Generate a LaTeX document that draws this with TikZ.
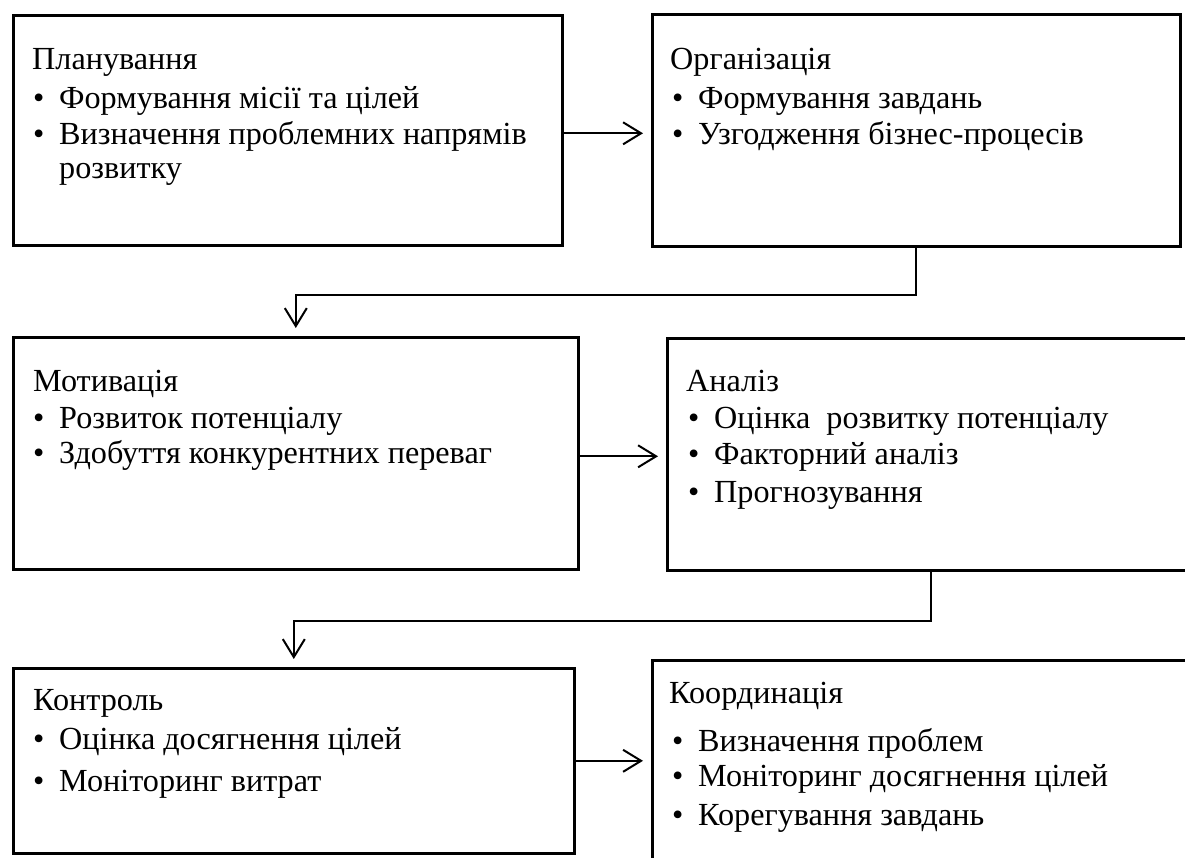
\documentclass[tikz,border=0pt]{standalone}
\usepackage{fontspec}
\setmainfont{Liberation Serif}
\usetikzlibrary{arrows.meta,calc}
\begin{document}
\begin{tikzpicture}[x=1pt,y=-1pt,
  box/.style={draw, line width=2.6pt, anchor=north west, inner sep=0pt},
  txt/.style={anchor=base west, inner sep=0pt, font=\fontsize{32.2}{39}\selectfont},
  conn/.style={line width=2pt, -{Straight Barb[length=18pt,width=22pt,line width=2pt]}, shorten >=8pt}]
\useasboundingbox (0,0) rectangle (1185,857);
\clip (0,0) rectangle (1185,857);
\newcommand{\bul}[1]{\makebox[26pt][l]{\textbullet}#1}
% boxes
\node[box, minimum width=549pt, minimum height=230pt] (b1) at (12,14) {};
\node[box, minimum width=528pt, minimum height=232pt] (b2) at (651,13) {};
\node[box, minimum width=565pt, minimum height=232pt] (b3) at (12,336) {};
\node[box, minimum width=528pt, minimum height=232pt] (b4) at (666,337) {};
\node[box, minimum width=561pt, minimum height=185pt] (b5) at (12,667) {};
\node[box, minimum width=560pt, minimum height=220pt] (b6) at (651,659) {};
% texts box 1
\node[txt] (t1) at (32,69) {Планування};
\node[txt] (t1a) at (33,108) {\bul{Формування місії та цілей}};
\node[txt] (t1b) at (33,144) {\bul{Визначення проблемних напрямів}};
\node[txt] (t1c) at (59,178) {розвитку};
% box 2
\node[txt] (t2) at (670,69) {Організація};
\node[txt] (t2a) at (672,108) {\bul{Формування завдань}};
\node[txt] (t2b) at (672,144) {\bul{Узгодження бізнес-процесів}};
% box 3
\node[txt] (t3) at (33,391) {Мотивація};
\node[txt] (t3a) at (33,428) {\bul{Розвиток потенціалу}};
\node[txt] (t3b) at (33,463) {\bul{Здобуття конкурентних переваг}};
% box 4
\node[txt] (t4) at (686,391) {Аналіз};
\node[txt] (t4a) at (688,428) {\bul{Оцінка\ \ розвитку потенціалу}};
\node[txt] (t4b) at (688,464) {\bul{Факторний аналіз}};
\node[txt] (t4c) at (688,502) {\bul{Прогнозування}};
% box 5
\node[txt] (t5) at (33,710) {Контроль};
\node[txt] (t5a) at (33,749) {\bul{Оцінка досягнення цілей}};
\node[txt] (t5b) at (33,791) {\bul{Моніторинг витрат}};
% box 6
\node[txt] (t6) at (669,703) {Координація};
\node[txt] (t6a) at (672,751) {\bul{Визначення проблем}};
\node[txt] (t6b) at (672,786) {\bul{Моніторинг досягнення цілей}};
\node[txt] (t6c) at (672,825) {\bul{Корегування завдань}};
% connectors
\draw[conn] ($(b1.east)+(0,3)$) -- ($(b1.east -| b2.west)+(0,3)$);
\draw[conn] ($(b3.east)+(0,3)$) -- ($(b3.east -| b4.west)+(0,3)$);
\draw[conn] (b5.east) -- (b5.east -| b6.west);
\draw[conn] (b2.south) -- ($(b2.south)+(0,47)$) -| (b3.north);
\draw[conn] (b4.south) -- ($(b4.south)+(0,49)$) -| (b5.north);
\end{tikzpicture}
\end{document}
